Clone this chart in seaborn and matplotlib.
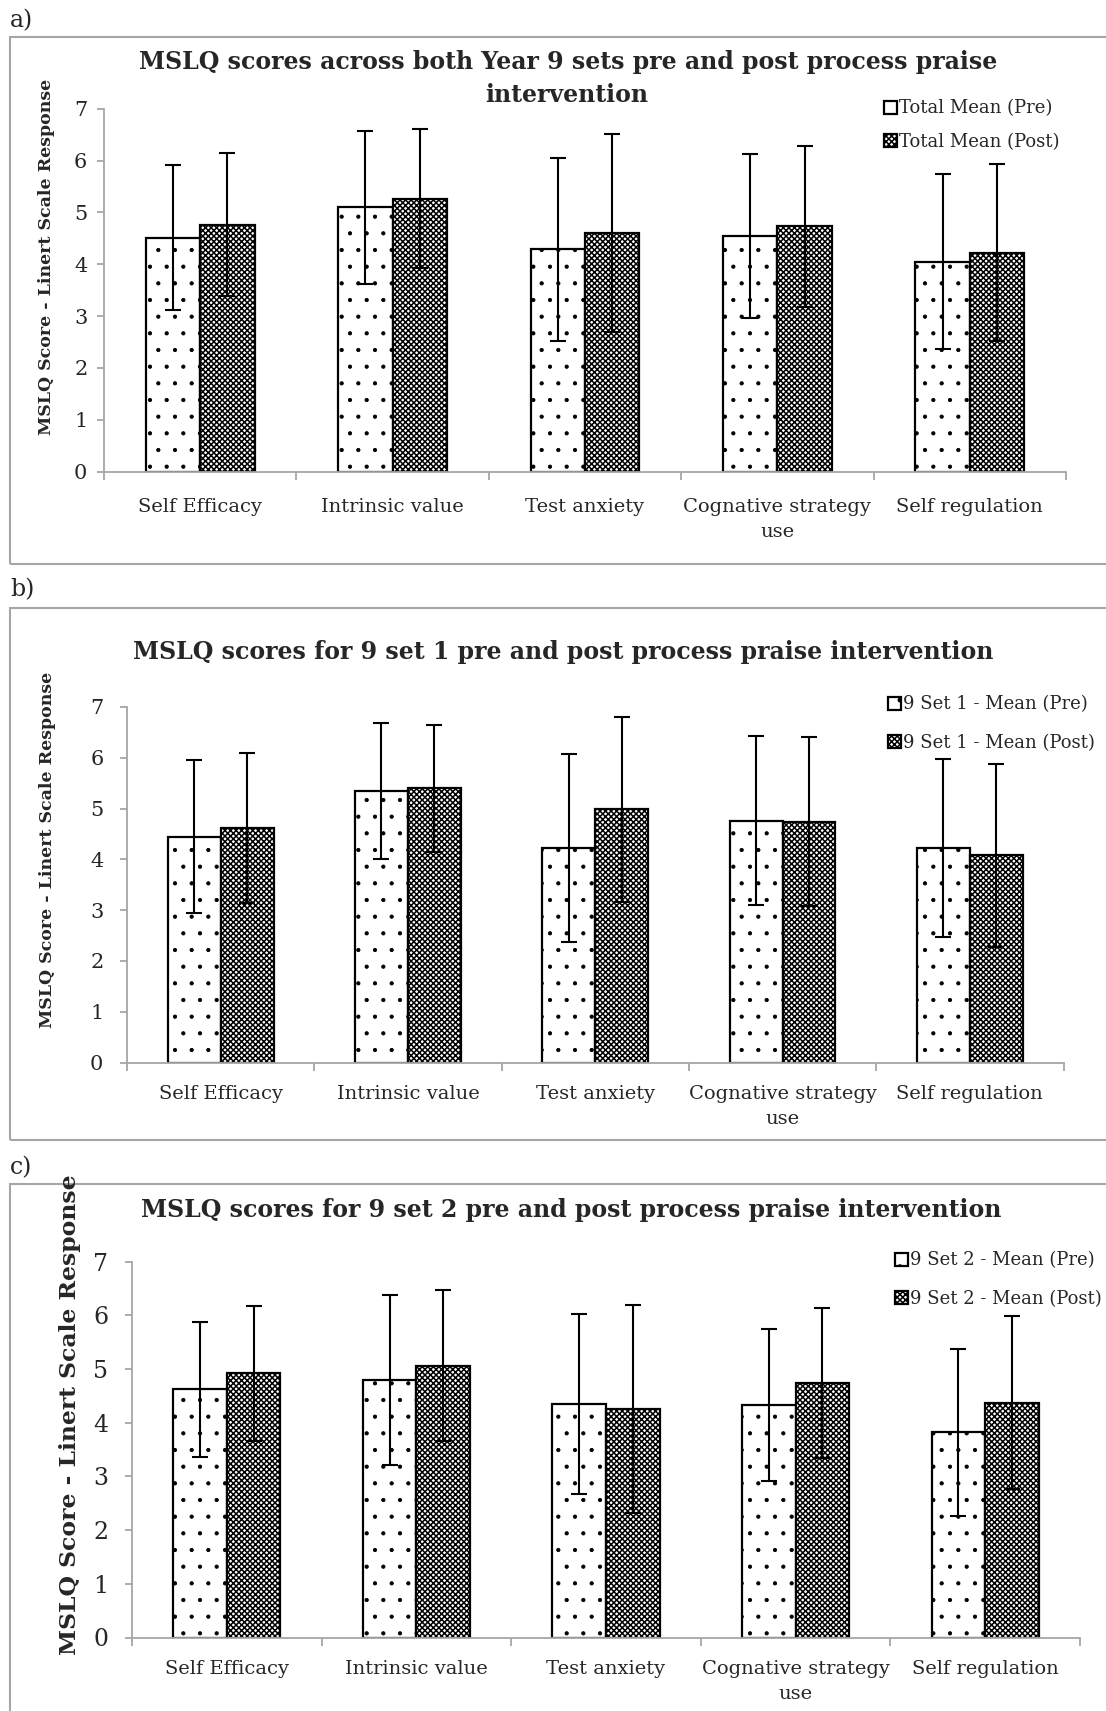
import matplotlib
matplotlib.use("Agg")
import numpy as np
import pandas as pd
import seaborn as sns
from matplotlib import pyplot as plt
from matplotlib.patches import Rectangle

####################################
# data
####################################
categories = [
    "Self Efficacy",
    "Intrinsic value",
    "Test anxiety",
    "Cognative strategy\nuse",
    "Self regulation",
]

# a) both Year 9 sets
a_pre_mean = [4.51, 5.10, 4.29, 4.55, 4.05]
a_pre_sd = [1.40, 1.48, 1.77, 1.58, 1.69]
a_post_mean = [4.76, 5.27, 4.61, 4.73, 4.22]
a_post_sd = [1.38, 1.34, 1.91, 1.55, 1.71]

# b) 9 set 1
b_pre_mean = [4.45, 5.35, 4.22, 4.76, 4.23]
b_pre_sd = [1.50, 1.34, 1.85, 1.66, 1.75]
b_post_mean = [4.62, 5.40, 4.99, 4.74, 4.08]
b_post_sd = [1.47, 1.25, 1.82, 1.66, 1.80]

# c) 9 set 2
c_pre_mean = [4.62, 4.79, 4.35, 4.33, 3.82]
c_pre_sd = [1.25, 1.58, 1.68, 1.42, 1.56]
c_post_mean = [4.92, 5.06, 4.25, 4.74, 4.37]
c_post_sd = [1.26, 1.41, 1.94, 1.40, 1.61]

####################################
# style
####################################
sns.set_style("white")
plt.rcParams["font.family"] = ["DejaVu Serif"]
plt.rcParams["hatch.linewidth"] = 1.1
plt.rcParams["hatch.color"] = "black"

GREY = "#a6a6a6"
W, H = 1106, 1711

fig = plt.figure(figsize=(W / 100, H / 100), dpi=100)


def fx(x):
    return x / W


def fy(y):
    return 1 - y / H


def draw_panel(box, frame, letter, letter_y, titles, ylab_xy, ylab_size,
               tick_size, ypad, xpad, pre, post, labels, leg_xy, leg_space):
    left, top, right, bottom = box
    ax = fig.add_axes([fx(left), fy(bottom), fx(right) - fx(left), fy(top) - fy(bottom)])

    df = pd.DataFrame({
        "category": categories * 2,
        "mean": pre[0] + post[0],
        "series": [labels[0]] * 5 + [labels[1]] * 5,
    })
    sns.barplot(
        data=df, x="category", y="mean", hue="series", ax=ax,
        width=0.565, gap=0, errorbar=None, palette=["white", "white"],
        saturation=1, edgecolor="black", linewidth=1.6, legend=False,
    )

    # pattern fills + sd error bars on the bar centres
    for cont, hatch, hlw, (means, sds) in zip(ax.containers, [".", "xxxxxx"], [0.6, 1.1],
                                              [pre, post]):
        xs = []
        for p in cont:
            p.set_hatch(hatch)
            if hasattr(p, "set_hatch_linewidth"):
                p.set_hatch_linewidth(hlw)
            xs.append(p.get_x() + p.get_width() / 2)
        ax.errorbar(xs, means, yerr=sds, fmt="none", ecolor="black",
                    elinewidth=1.5, capsize=6, capthick=1.5, zorder=5)

    ax.set_xlim(-0.5, 4.5)
    ax.set_ylim(0, 7)
    ax.set_yticks(range(8))
    ax.set_xlabel("")
    ax.set_ylabel("")
    sns.despine(ax=ax)
    for s in ["left", "bottom"]:
        ax.spines[s].set_color(GREY)
        ax.spines[s].set_linewidth(1.3)
    ax.tick_params(axis="y", left=True, length=5, width=1.3, color=GREY,
                   pad=ypad, labelsize=tick_size)
    ax.set_xticks(np.arange(-0.5, 5, 1), minor=True)
    ax.tick_params(axis="x", which="minor", bottom=True, length=6, width=1.3, color=GREY)
    ax.tick_params(axis="x", which="major", length=0, pad=xpad, labelsize=14)
    for t in ax.get_xticklabels():
        t.set_linespacing(1.5)

    ax.legend(ax.containers, labels, loc="upper left",
              bbox_to_anchor=(fx(leg_xy[0]), fy(leg_xy[1])),
              bbox_transform=fig.transFigure, frameon=False, fontsize=13,
              handlelength=0.7, handleheight=0.7, handletextpad=0.15,
              labelspacing=leg_space, borderpad=0, borderaxespad=0)

    for text, (tx, ty) in titles:
        fig.text(fx(tx), fy(ty), text, ha="center", va="center",
                 fontsize=17, fontweight="bold")
    fig.text(fx(ylab_xy[0]), fy(ylab_xy[1]), "MSLQ Score - Linert Scale Response",
             rotation=90, ha="center", va="center", fontsize=ylab_size, fontweight="bold")
    fig.text(fx(10), fy(letter_y), letter, ha="left", va="center", fontsize=17)
    fig.add_artist(Rectangle((fx(9.5), fy(frame[1])), 1.2, fy(frame[0]) - fy(frame[1]),
                             transform=fig.transFigure, fill=False, ec=GREY, lw=1.5))
    return ax


####################################
# a) both sets
####################################
draw_panel(
    box=(104, 108.9, 1066, 471.5), frame=(37, 563.5), letter="a)", letter_y=21,
    titles=[("MSLQ scores across both Year 9 sets pre and post process praise", (568, 62)),
            ("intervention", (567, 95))],
    ylab_xy=(47, 257), ylab_size=12.5, tick_size=15, ypad=7, xpad=19,
    pre=(a_pre_mean, a_pre_sd), post=(a_post_mean, a_post_sd),
    labels=["Total Mean (Pre)", "Total Mean (Post)"], leg_xy=(884, 99.5), leg_space=0.84,
)

####################################
# b) 9 set 1
####################################
draw_panel(
    box=(127, 707, 1063.5, 1062.6), frame=(607.7, 1140), letter="b)", letter_y=590,
    titles=[("MSLQ scores for 9 set 1 pre and post process praise intervention", (563, 652))],
    ylab_xy=(48, 850), ylab_size=12.5, tick_size=15, ypad=12, xpad=16,
    pre=(b_pre_mean, b_pre_sd), post=(b_post_mean, b_post_sd),
    labels=["9 Set 1 - Mean (Pre)", "9 Set 1 - Mean (Post)"], leg_xy=(888, 695.5), leg_space=1.12,
)

####################################
# c) 9 set 2
####################################
draw_panel(
    box=(132, 1261.6, 1080, 1637.5), frame=(1184, 1730), letter="c)", letter_y=1168,
    titles=[("MSLQ scores for 9 set 2 pre and post process praise intervention", (571, 1210))],
    ylab_xy=(70, 1415), ylab_size=16.9, tick_size=17, ypad=12, xpad=16.5,
    pre=(c_pre_mean, c_pre_sd), post=(c_post_mean, c_post_sd),
    labels=["9 Set 2 - Mean (Pre)", "9 Set 2 - Mean (Post)"], leg_xy=(895, 1251.5), leg_space=1.12,
)

fig.savefig("out.png", dpi=100)
